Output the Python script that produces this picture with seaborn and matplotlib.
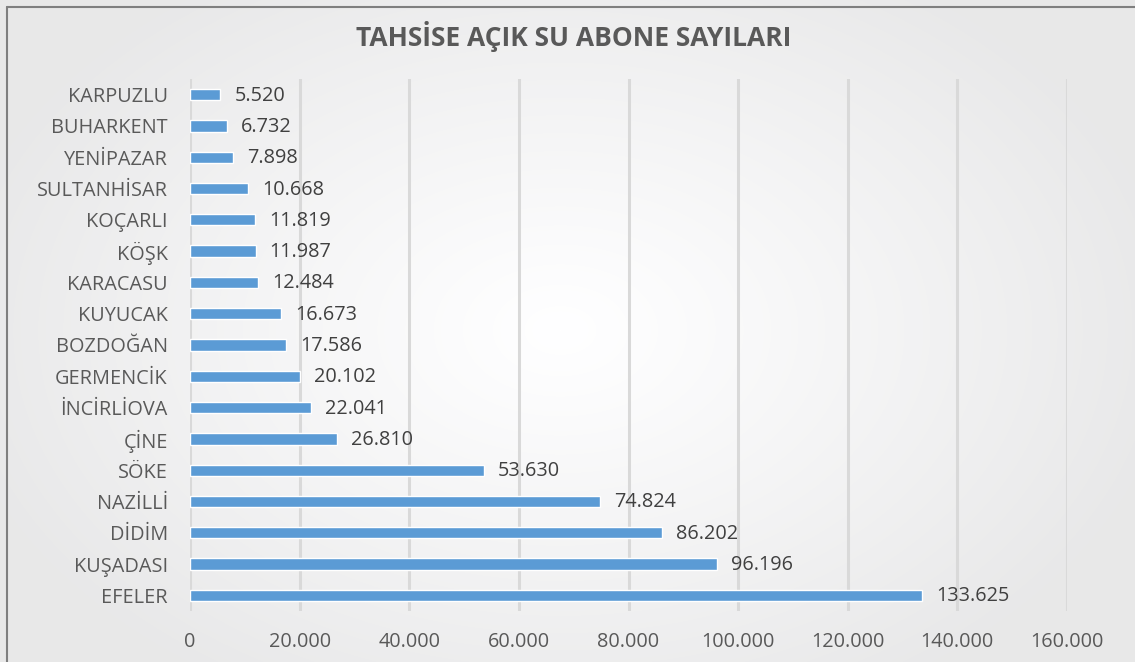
import numpy as np
import pandas as pd
import matplotlib
matplotlib.use("Agg")
import matplotlib.pyplot as plt
import seaborn as sns

categories = ["KARPUZLU", "BUHARKENT", "YENİPAZAR", "SULTANHİSAR", "KOÇARLI", "KÖŞK",
              "KARACASU", "KUYUCAK", "BOZDOĞAN", "GERMENCİK", "İNCİRLİOVA", "ÇİNE",
              "SÖKE", "NAZİLLİ", "DİDİM", "KUŞADASI", "EFELER"]
values = [5520, 6732, 7898, 10668, 11819, 11987, 12484, 16673, 17586, 20102,
          22041, 26810, 53630, 74824, 86202, 96196, 133625]
tick_values = [0, 20000, 40000, 60000, 80000, 100000, 120000, 140000, 160000]
tick_labels = ["0", "20.000", "40.000", "60.000", "80.000", "100.000", "120.000", "140.000", "160.000"]
title = "TAHSİSE AÇIK SU ABONE SAYILARI"

sns.set_theme(style="white")
plt.rcParams['font.family'] = ['Open Sans', 'DejaVu Sans']

W, H = 1135, 662
fig = plt.figure(figsize=(W / 100, H / 100), dpi=100)

# radial gradient background
bg = fig.add_axes([0, 0, 1, 1], zorder=-10)
yy, xx = np.mgrid[0:H, 0:W]
r = np.sqrt(((xx - 560) / 620.0) ** 2 + ((yy - 330) / 420.0) ** 2)
r = np.clip(r, 0, 1)
level = 1.0 - 0.09 * r ** 1.1
img = np.dstack([level, level, level * 1.003])
img = np.clip(img, 0, 1)
bg.imshow(img, aspect="auto", extent=[0, W, H, 0])
bg.set_xlim(0, W)
bg.set_ylim(H, 0)
bg.axis("off")
# frame border (left and top)
bg.plot([6.5, 6.5], [6.5, H], color="#7f7f7f", lw=1.5)
bg.plot([6.5, W], [6.5, 6.5], color="#7f7f7f", lw=1.5)

df = pd.DataFrame({"category": categories, "value": values})

ax = fig.add_axes([190 / W, 1 - 611 / H, (1067 - 190) / W, (611 - 79) / H])
ax.patch.set_alpha(0)
sns.barplot(data=df, x="value", y="category", orient="h", color="#5b9bd5",
            width=0.36, saturation=1, ax=ax, zorder=3)
ax.set_xlim(0, 160000)
ax.set_ylim(16.5, -0.5)
ax.set_xticks(tick_values)
ax.set_xticklabels(tick_labels)
ax.set_xlabel("")
ax.set_ylabel("")
for s in ax.spines.values():
    s.set_visible(False)
ax.grid(axis="x", color="#d9d9d9", lw=2.2, zorder=0)
ax.grid(axis="y", visible=False)
ax.tick_params(axis="y", length=0, pad=16, labelsize=14.3, labelcolor="#595959")
ax.tick_params(axis="x", length=0, pad=15, labelsize=14.3, labelcolor="#595959")

for i, v in enumerate(values):
    lbl = f"{v:,}".replace(",", ".")
    ax.annotate(lbl, xy=(v, i), xytext=(14, -1), textcoords="offset pixels",
                va="center", ha="left", fontsize=14.3, color="#404040")

fig.text(574 / W, 1 - 37 / H, title, ha="center", va="center", fontsize=19,
         fontweight="bold", color="#595959")

fig.savefig("out.png", dpi=100)
